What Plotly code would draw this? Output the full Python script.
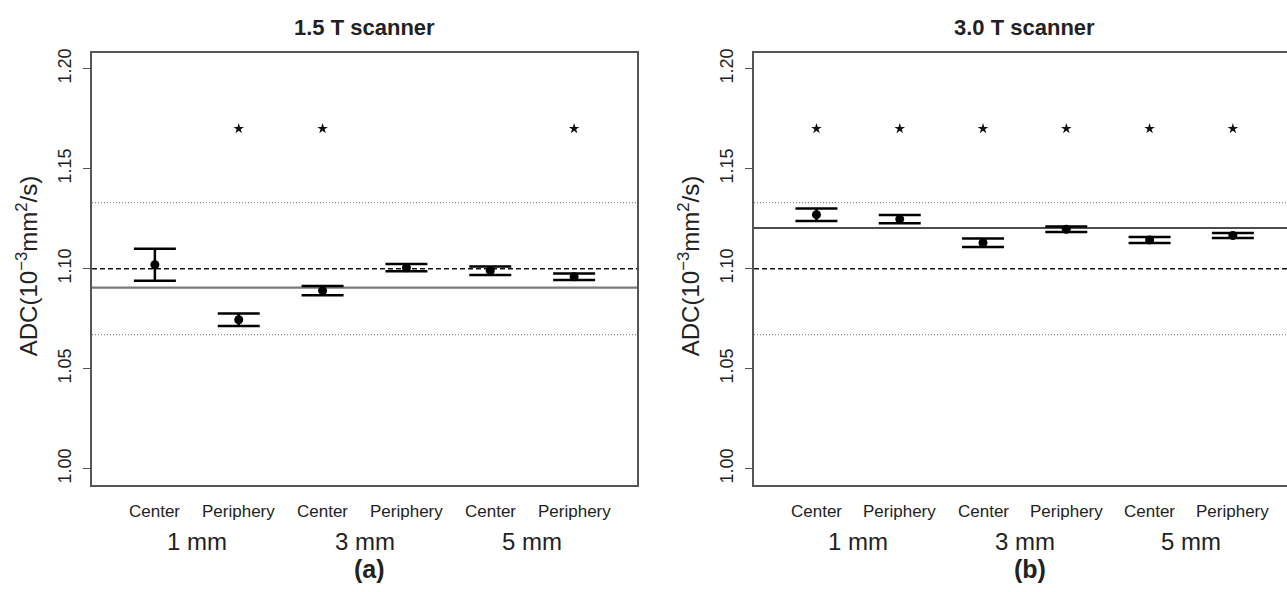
import plotly.graph_objects as go

# ---------------- data ----------------
categories = ["Center", "Periphery", "Center", "Periphery", "Center", "Periphery"]
positions = [1, 2, 3, 4, 5, 6]
groups = ["1 mm", "3 mm", "5 mm"]
group_positions = [1.5, 3.5, 5.5]

mean_15 = [1.1020, 1.0745, 1.0890, 1.1005, 1.0990, 1.0960]
err_15 = [0.0080, 0.0031, 0.0023, 0.0018, 0.0021, 0.0016]
star_15 = [False, True, True, False, False, True]

mean_30 = [1.1270, 1.1248, 1.1130, 1.1197, 1.1144, 1.1166]
err_30 = [0.0031, 0.0021, 0.0021, 0.0014, 0.0015, 0.0013]
star_30 = [True, True, True, True, True, True]

star_level = 1.17
reference_value = 1.10
tolerance_lines = [1.133, 1.067]
overall_mean_15 = 1.0905
overall_mean_30 = 1.1203

y_ticks = [1.00, 1.05, 1.10, 1.15, 1.20]
y_tick_text = ["1.00", "1.05", "1.10", "1.15", "1.20"]
titles = ["1.5 T scanner", "3.0 T scanner"]
panel_letters = ["(a)", "(b)"]
y_title = "ADC(10<sup>\u22123</sup>mm<sup>2</sup>/s)"

# ---------------- layout geometry ----------------
W, H = 1287, 592
FONT = "Liberation Sans, Arial, Helvetica, sans-serif"


def py(px_from_top):
    return (H - px_from_top) / H


fig = go.Figure()

panels = [
    dict(x="x", y="y", mean=mean_15, err=err_15, star=star_15,
         mline=overall_mean_15, mcolor="#7a7a7a", mwidth=2.2),
    dict(x="x2", y="y2", mean=mean_30, err=err_30, star=star_30,
         mline=overall_mean_30, mcolor="#111111", mwidth=1.5),
]

shapes = []
annotations = []
for k, p in enumerate(panels):
    xs = [positions[i] for i in range(6) if p["star"][i]]
    fig.add_trace(go.Scatter(
        x=xs, y=[star_level] * len(xs), xaxis=p["x"], yaxis=p["y"],
        mode="markers", marker=dict(symbol="star", size=8, color="#111"),
        showlegend=False, hoverinfo="skip"))
    fig.add_trace(go.Scatter(
        x=positions, y=p["mean"], xaxis=p["x"], yaxis=p["y"],
        mode="markers", marker=dict(size=9, color="black"),
        error_y=dict(type="data", array=p["err"], symmetric=True,
                     width=21, thickness=2.5, color="black"),
        showlegend=False))
    xdom = p["x"] + " domain"
    for t in tolerance_lines:
        shapes.append(dict(type="line", xref=xdom, yref=p["y"], x0=0, x1=1,
                           y0=t, y1=t, layer="below",
                           line=dict(color="#8a8a8a", width=1.3, dash="1px,2px")))
    shapes.append(dict(type="line", xref=xdom, yref=p["y"], x0=0, x1=1,
                       y0=reference_value, y1=reference_value, layer="below",
                       line=dict(color="#111", width=1.4, dash="5px,3px")))
    shapes.append(dict(type="line", xref=xdom, yref=p["y"], x0=0, x1=1,
                       y0=p["mline"], y1=p["mline"], layer="below",
                       line=dict(color=p["mcolor"], width=p["mwidth"])))

    for i in range(6):
        annotations.append(dict(x=positions[i], y=py(511), xref=p["x"], yref="paper",
                                text=categories[i], showarrow=False,
                                font=dict(family=FONT, size=17, color="#222"),
                                xanchor="center", yanchor="middle"))
    for g, gx in zip(groups, group_positions):
        annotations.append(dict(x=gx, y=py(541), xref=p["x"], yref="paper",
                                text=g, showarrow=False,
                                font=dict(family=FONT, size=24, color="#222"),
                                xanchor="center", yanchor="middle"))
    annotations.append(dict(x=3.56, y=py(569), xref=p["x"], yref="paper",
                            text="<b>" + panel_letters[k] + "</b>", showarrow=False,
                            font=dict(family=FONT, size=25, color="#222"),
                            xanchor="center", yanchor="middle"))
    annotations.append(dict(x=3.5, y=py(24), xref=p["x"], yref="paper",
                            text="<b>" + titles[k] + "</b>", showarrow=False,
                            font=dict(family=FONT, size=22, color="#222"),
                            xanchor="center", yanchor="middle"))

# y-axis titles
for xpix in [27, 689]:
    annotations.append(dict(x=xpix / W, y=py(264), xref="paper", yref="paper",
                            text=y_title, textangle=-90, showarrow=False,
                            font=dict(family=FONT, size=24, color="#222"),
                            xanchor="center", yanchor="middle"))

ydom = [py(484), py(49)]
common_y = dict(range=[0.992, 1.208], tickvals=y_ticks, ticktext=y_tick_text,
                tickangle=-90, ticks="outside", ticklen=7, tickwidth=1.2,
                tickcolor="#555", showgrid=False, zeroline=False,
                showline=True, linecolor="#555", linewidth=1.6,
                tickfont=dict(family=FONT, size=18, color="#222"),
                ticklabelstandoff=5, domain=ydom)
common_x = dict(showgrid=False, zeroline=False, showticklabels=False, ticks="",
                showline=True, linecolor="#555", linewidth=1.6, mirror=True)

fig.update_layout(
    width=W, height=H,
    margin=dict(l=0, r=0, t=0, b=0),
    paper_bgcolor="white", plot_bgcolor="white",
    xaxis=dict(common_x, domain=[92 / W, 637 / W], range=[0.25, 6.75], anchor="y"),
    yaxis=dict(common_y, anchor="x", mirror=True),
    xaxis2=dict(common_x, domain=[754 / W, 1.0], range=[0.25, 6.65], anchor="y2"),
    yaxis2=dict(common_y, anchor="x2", mirror=False),
    shapes=shapes,
    annotations=annotations,
    showlegend=False,
)

fig.write_html("out.html", config={"displayModeBar": False},
               post_script="document.body.style.margin='0';")
